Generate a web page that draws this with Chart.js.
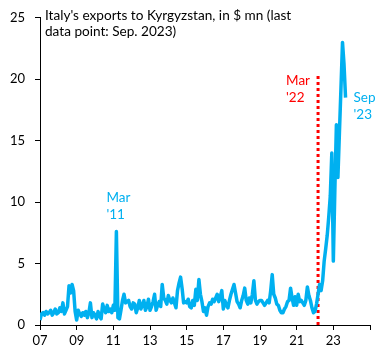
<!DOCTYPE html>
<html>
<head>
<meta charset="utf-8">
<script src="https://cdn.jsdelivr.net/npm/chart.js@4.4.1/dist/chart.umd.min.js"></script>
<style>
  html, body { margin: 0; padding: 0; background: #fff; }
  #wrap { width: 385px; height: 361px; }
</style>
</head>
<body>
<div id="wrap"><canvas id="exportsChart"></canvas></div>
<script>
// monthly exports, $ mn, Jan 2007 .. Sep 2023
const startYear = 2007;
const exports2007 = [0.4, 0.9, 1.0, 0.8, 1.1, 0.9, 1.0, 1.2, 0.8, 1.0, 1.3, 0.9];
const exports2008 = [1.0, 1.4, 1.1, 1.8, 0.9, 1.2, 1.5, 3.2, 2.6, 3.3, 2.8, 1.1];
const exports2009 = [0.4, 1.2, 0.9, 0.7, 1.0, 0.8, 1.1, 0.6, 1.0, 1.8, 0.6, 1.0];
const exports2010 = [0.8, 0.5, 1.1, 0.7, 0.5, 1.7, 1.3, 1.0, 1.6, 1.1, 1.3, 1.0];
const exports2011 = [1.6, 1.2, 7.6, 0.6, 0.5, 1.2, 2.0, 2.5, 1.8, 1.9, 2.0, 1.5];
const exports2012 = [1.3, 1.8, 1.7, 1.0, 1.4, 2.0, 1.3, 1.6, 2.0, 1.2, 1.5, 2.1];
const exports2013 = [1.2, 1.5, 1.9, 2.5, 1.2, 1.6, 1.9, 1.5, 3.3, 2.2, 2.0, 1.7];
const exports2014 = [2.4, 2.0, 1.8, 2.2, 1.8, 1.4, 2.8, 3.4, 3.9, 3.0, 1.8, 1.9];
const exports2015 = [1.8, 2.1, 1.5, 1.4, 2.0, 1.6, 2.9, 2.0, 3.7, 2.5, 1.9, 1.1];
const exports2016 = [1.4, 0.8, 1.5, 1.8, 1.7, 2.1, 1.9, 2.2, 2.5, 1.9, 2.3, 2.8];
const exports2017 = [1.3, 2.0, 1.6, 1.4, 2.0, 2.5, 2.9, 3.3, 2.6, 1.9, 1.7, 1.4];
const exports2018 = [2.0, 2.4, 3.0, 2.0, 1.7, 2.2, 1.8, 2.5, 3.6, 2.0, 1.7, 1.9];
const exports2019 = [2.0, 2.0, 1.8, 1.6, 1.8, 2.0, 1.8, 2.8, 4.1, 2.5, 2.2, 1.7];
const exports2020 = [1.6, 1.2, 1.0, 1.0, 1.3, 1.5, 1.9, 2.0, 3.0, 2.2, 1.6, 2.3];
const exports2021 = [1.6, 2.5, 1.9, 2.0, 1.8, 1.6, 2.0, 3.1, 2.4, 2.0, 1.4, 1.0];
const exports2022 = [1.1, 1.7, 2.5, 3.3, 2.8, 3.6, 5.2, 6.2, 7.3, 8.8, 10.5, 14.0];
const exports2023 = [5.2, 11.0, 16.3, 12.0, 15.7, 19.3, 23.0, 21.2, 18.5];

const yearTicks = [2007, 2009, 2011, 2013, 2015, 2017, 2019, 2021, 2023, 2025];
const valueTicks = [0, 5, 10, 15, 20, 25];
const marchLine = [0, 20.5]; // Mar 2022 marker, bottom and top

const allValues = [].concat(exports2007, exports2008, exports2009, exports2010, exports2011,
  exports2012, exports2013, exports2014, exports2015, exports2016, exports2017, exports2018,
  exports2019, exports2020, exports2021, exports2022, exports2023);

const linePoints = allValues.map((v, i) => ({ x: startYear + i / 12, y: v }));
const marchX = 2022 + 2 / 12;

const blue = "#00B0F0";
const red = "#FF0000";
const font = "Lato, 'Open Sans', sans-serif";

const notes = [
  { lines: ["Mar", "'11"], x: 2011 + 2 / 12, y: 7.6, dx: -10, dy: -30, color: blue },
  { lines: ["Mar", "'22"], x: marchX, y: 20.5, dx: -32, dy: 12, color: red },
  { lines: ["Sep", "'23"], x: 2023 + 8 / 12, y: 18.5, dx: 8, dy: 4, color: blue }
];

const textPlugin = {
  id: "texts",
  afterDraw(chart) {
    const ctx = chart.ctx;
    const xs = chart.scales.x;
    const ys = chart.scales.y;
    ctx.save();
    ctx.textBaseline = "alphabetic";
    ctx.textAlign = "left";

    ctx.fillStyle = "#000";
    ctx.font = "13.6px " + font;
    ctx.fillText("Italy's exports to Kyrgyzstan, in $ mn (last", 45, 20);
    ctx.fillText("data point: Sep. 2023)", 45, 36);

    notes.forEach((n) => {
      const px = xs.getPixelForValue(n.x) + n.dx;
      const py = ys.getPixelForValue(n.y) + n.dy;
      ctx.fillStyle = n.color;
      ctx.font = "13.5px " + font;
      n.lines.forEach((t, k) => ctx.fillText(t, px, py + k * 17));
    });
    ctx.restore();
  }
};

new Chart(document.getElementById("exportsChart"), {
  type: "line",
  data: {
    datasets: [
      {
        data: linePoints,
        borderColor: blue,
        borderWidth: 3.5,
        pointRadius: 0,
        tension: 0,
        borderJoinStyle: "round"
      },
      {
        data: marchLine.map((v) => ({ x: marchX, y: v })),
        borderColor: red,
        borderWidth: 3,
        borderDash: [3, 3],
        pointRadius: 0
      }
    ]
  },
  options: {
    responsive: true,
    maintainAspectRatio: false,
    animation: false,
    layout: { padding: { top: 17, right: 15, left: 0, bottom: 0 } },
    plugins: {
      legend: { display: false },
      tooltip: { enabled: false }
    },
    scales: {
      x: {
        type: "linear",
        min: yearTicks[0],
        max: yearTicks[yearTicks.length - 1],
        afterBuildTicks(scale) {
          scale.ticks = yearTicks.map((v) => ({ value: v }));
        },
        afterFit(scale) { scale.height = 36; },
        grid: { drawOnChartArea: false, color: "#000", tickLength: 5 },
        border: { color: "#000", width: 1 },
        ticks: {
          color: "#000",
          font: { family: font, size: 13 },
          padding: 3,
          maxRotation: 0,
          autoSkip: false,
          callback(value) {
            return value === 2025 ? "" : String(value).slice(2);
          }
        }
      },
      y: {
        min: valueTicks[0],
        max: valueTicks[valueTicks.length - 1],
        afterBuildTicks(scale) {
          scale.ticks = valueTicks.map((v) => ({ value: v }));
        },
        afterFit(scale) { scale.width = 40; },
        grid: { drawOnChartArea: false, color: "#000", tickLength: 5 },
        border: { color: "#000", width: 1 },
        ticks: {
          color: "#000",
          font: { family: font, size: 13 },
          padding: 10
        }
      }
    }
  },
  plugins: [textPlugin]
});
</script>
</body>
</html>
